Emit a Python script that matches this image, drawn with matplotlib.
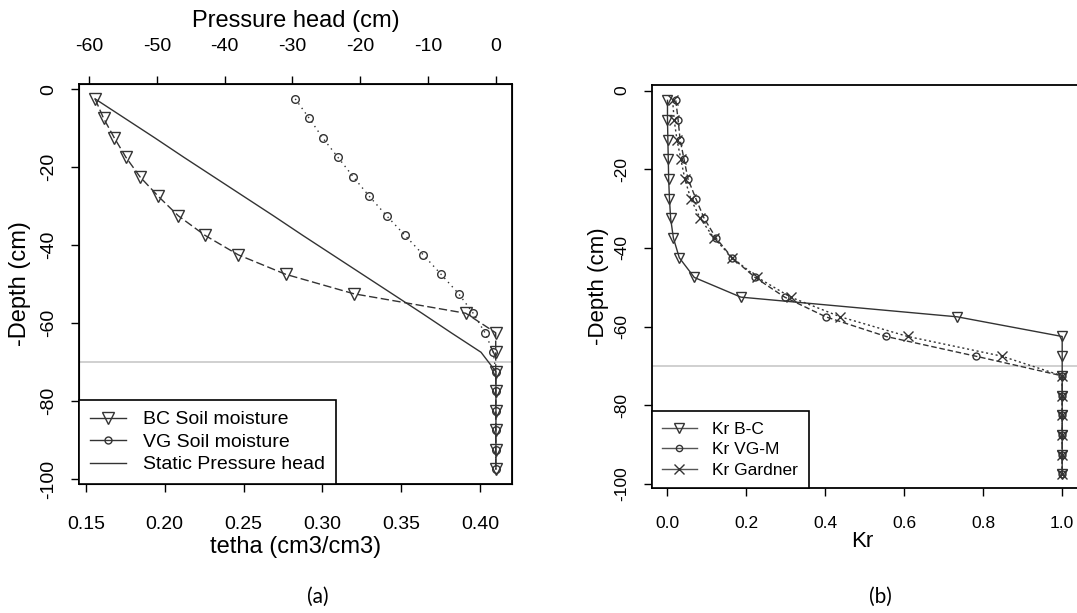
import matplotlib
matplotlib.use("Agg")
from matplotlib import pyplot as plt
from matplotlib.lines import Line2D

plt.rcParams["font.family"] = ["Liberation Sans", "DejaVu Sans"]

depth = [-2.5, -7.5, -12.5, -17.5, -22.5, -27.5, -32.5, -37.5, -42.5, -47.5,
         -52.5, -57.5, -62.5, -67.5, -72.5, -77.5, -82.5, -87.5, -92.5, -97.5]

# panel (a)
theta_bc = [0.1558, 0.1612, 0.168, 0.1754, 0.1843, 0.1959, 0.2086, 0.2255, 0.2466, 0.2767,
            0.320, 0.391, 0.41, 0.41, 0.41, 0.41, 0.41, 0.41, 0.41, 0.41]
theta_vg = [0.2828, 0.2917, 0.3002, 0.3099, 0.3196, 0.3298, 0.3408, 0.3524, 0.3640, 0.3753,
            0.3865, 0.3957, 0.4032, 0.4085, 0.41, 0.41, 0.41, 0.41, 0.41, 0.41]
pressure = [-59.1, -54.7, -50.3, -46.0, -41.6, -37.2, -32.8, -28.5, -24.1, -19.7,
            -15.3, -10.9, -6.6, -2.2, 0, 0, 0, 0, 0, 0]

# panel (b)
kr_bc = [0.0, 0.0, 0.001, 0.002, 0.003, 0.005, 0.008, 0.015, 0.030, 0.068,
         0.186, 0.734, 1.0, 1.0, 1.0, 1.0, 1.0, 1.0, 1.0, 1.0]
kr_vg = [0.021, 0.027, 0.032, 0.042, 0.052, 0.072, 0.093, 0.123, 0.164, 0.222,
         0.297, 0.401, 0.554, 0.781, 1.0, 1.0, 1.0, 1.0, 1.0, 1.0]
kr_gardner = [0.013, 0.017, 0.024, 0.034, 0.044, 0.059, 0.083, 0.118, 0.164, 0.228,
              0.312, 0.438, 0.609, 0.847, 1.0, 1.0, 1.0, 1.0, 1.0, 1.0]

water_table = -70

theta_ticks = [0.15, 0.20, 0.25, 0.30, 0.35, 0.40]
pressure_ticks = [-60, -50, -40, -30, -20, -10, 0]
depth_ticks = [0, -20, -40, -60, -80, -100]
kr_ticks = [0.0, 0.2, 0.4, 0.6, 0.8, 1.0]

lc = "#333333"
gray = "#c8c8c8"


def style_axis(ax, tick_fs, xpad, ypad):
    for s in ax.spines.values():
        s.set_linewidth(1.3)
    ax.tick_params(direction="out", length=6, width=1, labelsize=tick_fs)
    ax.tick_params(axis="x", pad=xpad)
    ax.tick_params(axis="y", pad=ypad, labelrotation=90)
    for lab in ax.get_yticklabels():
        lab.set_va("center")


fig = plt.figure(figsize=(10.77, 6.13), dpi=100)

# ---------- (a) ----------
ax = fig.add_axes([0.07335, 0.2104, 0.4020, 0.6525])
ax.axhline(water_table, color=gray, lw=1.2, zorder=1)
ax.plot(theta_bc, depth, color=lc, lw=1, linestyle=(0, (6, 2.5)),
        marker="v", ms=8.5, mfc="none", mec=lc, mew=1)
ax.plot(theta_vg, depth, color=lc, lw=1, linestyle=(0, (1, 3)),
        marker="o", ms=5.5, mfc="none", mec=lc, mew=1)
ax.set_xlim(0.1456, 0.4203)
ax.set_ylim(-101.3, 1.3)
ax.set_xticks(theta_ticks)
ax.set_xticklabels(["%.2f" % t for t in theta_ticks])
ax.set_yticks(depth_ticks)
ax.set_yticklabels([str(t) for t in depth_ticks])
style_axis(ax, 14, 17, 10)
ax.set_xlabel("tetha (cm3/cm3)", fontsize=17)
ax.xaxis.set_label_coords(0.5, -0.1575)
ax.xaxis.label.set_va("center")
ax.set_ylabel("-Depth (cm)", fontsize=17)
ax.yaxis.set_label_coords(-0.136, 0.5)
ax.yaxis.label.set_va("center")

axt = ax.twiny()
axt.plot(pressure, depth, color=lc, lw=1)
axt.set_xlim(-61.47, 2.36)
axt.set_xticks(pressure_ticks)
axt.set_xticklabels([str(t) for t in pressure_ticks])
axt.tick_params(direction="out", length=6, width=1, labelsize=14, pad=15)
axt.set_xlabel("Pressure head (cm)", fontsize=17)
axt.xaxis.set_label_coords(0.5, 1.1575)
axt.xaxis.label.set_va("center")

handles_a = [
    Line2D([], [], color=lc, lw=1, marker="v", ms=8.5, mfc="none", mec=lc),
    Line2D([], [], color=lc, lw=1, marker="o", ms=5, mfc="none", mec=lc),
    Line2D([], [], color=lc, lw=1),
]
leg = axt.legend(handles_a, ["BC Soil moisture", "VG Soil moisture", "Static Pressure head"],
                 loc="lower left", bbox_to_anchor=(0, 0), borderaxespad=0,
                 fancybox=False, framealpha=1, edgecolor="black", fontsize=14,
                 handlelength=1.85, handletextpad=0.9, labelspacing=0.25,
                 borderpad=0.55)
leg.get_frame().set_linewidth(1.2)

# ---------- (b) ----------
bx = fig.add_axes([0.6051, 0.2039, 0.3958, 0.6574])
bx.axhline(water_table, color=gray, lw=1.2, zorder=1)
bx.plot(kr_bc, depth, color=lc, lw=1, linestyle="-",
        marker="v", ms=7.5, mfc="none", mec=lc, mew=1)
bx.plot(kr_vg, depth, color=lc, lw=1, linestyle=(0, (4, 2)),
        marker="o", ms=5, mfc="none", mec=lc, mew=1)
bx.plot(kr_gardner, depth, color=lc, lw=1, linestyle=(0, (1.5, 2)),
        marker="x", ms=7, mec=lc, mew=1)
bx.set_xlim(-0.04, 1.04)
bx.set_ylim(-101.0, 1.4)
bx.set_xticks(kr_ticks)
bx.set_xticklabels(["%.1f" % t for t in kr_ticks])
bx.set_yticks(depth_ticks)
bx.set_yticklabels([str(t) for t in depth_ticks])
style_axis(bx, 12.5, 14, 10)
bx.set_xlabel("Kr", fontsize=16)
bx.xaxis.set_label_coords(0.493, -0.133)
bx.xaxis.label.set_va("center")
bx.set_ylabel("-Depth (cm)", fontsize=16)
bx.yaxis.set_label_coords(-0.124, 0.5)
bx.yaxis.label.set_va("center")

handles_b = [
    Line2D([], [], color="#555555", lw=1, marker="v", ms=7.5, mfc="none", mec=lc),
    Line2D([], [], color="#555555", lw=1, marker="o", ms=4.5, mfc="none", mec=lc),
    Line2D([], [], color="#555555", lw=1, marker="x", ms=7, mec=lc),
]
leg_b = bx.legend(handles_b, ["Kr B-C", "Kr VG-M", "Kr Gardner"],
                  loc="lower left", bbox_to_anchor=(0, 0), borderaxespad=0,
                  fancybox=False, framealpha=1, edgecolor="black", fontsize=12.5,
                  handlelength=2.0, handletextpad=0.9, labelspacing=0.3,
                  borderpad=0.6)
leg_b.get_frame().set_linewidth(1.2)

# captions
fig.text(318 / 1077, 1 - 597 / 613, "(a)", ha="center", va="center",
         fontsize=15, family=["Lato", "DejaVu Sans"])
fig.text(880 / 1077, 1 - 597 / 613, "(b)", ha="center", va="center",
         fontsize=15, family=["Lato", "DejaVu Sans"])

fig.savefig("out.png", dpi=100)
